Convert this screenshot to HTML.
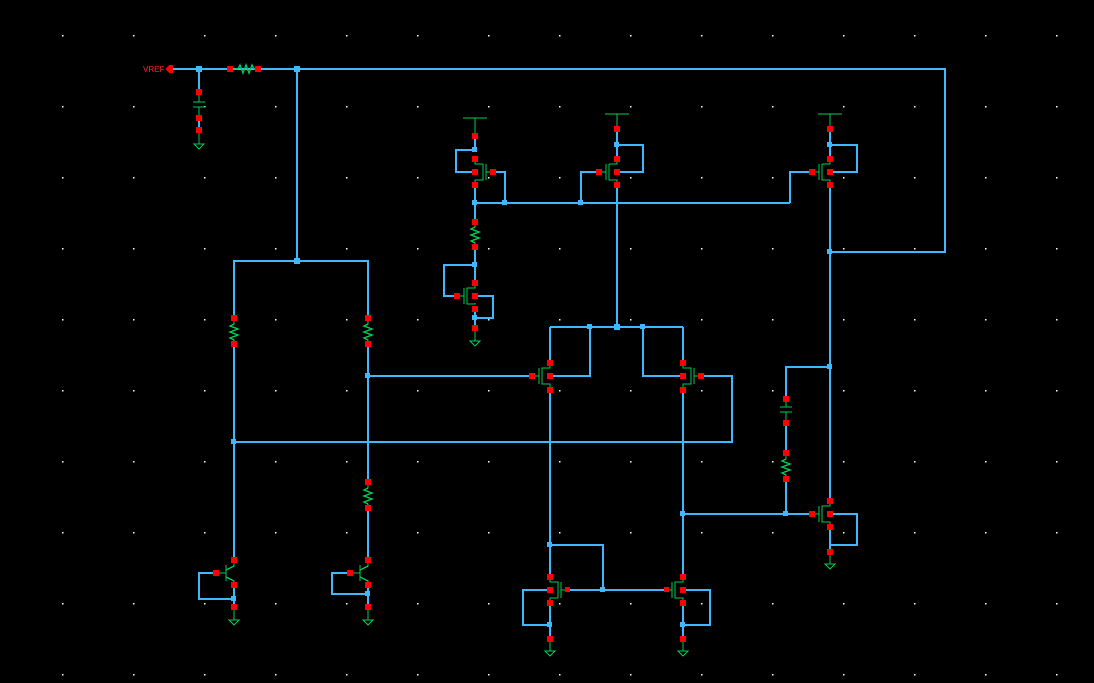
<!DOCTYPE html>
<html><head><meta charset="utf-8"><style>
html,body{margin:0;padding:0;background:#000;width:1094px;height:683px;overflow:hidden}
svg{display:block}
</style></head><body>
<svg width="1094" height="683" viewBox="0 0 1094 683" xmlns="http://www.w3.org/2000/svg" shape-rendering="crispEdges">
<rect width="1094" height="683" fill="#000"/>
<g fill="#fff" id="dots"></g>
<g stroke="#40b8ff" stroke-width="1.6" fill="none">
<polyline points="172,69 945,69 945,252 830,252"/>
<line x1="199" y1="69" x2="199" y2="92"/>
<line x1="199" y1="118" x2="199" y2="130"/>
<line x1="297" y1="69" x2="297" y2="261"/>
<polyline points="234,318 234,261 368,261 368,318"/>
<line x1="234" y1="344" x2="234" y2="560"/>
<line x1="368" y1="344" x2="368" y2="482"/>
<line x1="368" y1="508" x2="368" y2="560"/>
<line x1="368" y1="376" x2="532" y2="376"/>
<polyline points="234,442 732,442 732,376 701,376"/>
<polyline points="216,573 199,573 199,599 234,599"/>
<line x1="234" y1="585" x2="234" y2="607"/>
<polyline points="350,573 332,573 332,594 368,594"/>
<line x1="368" y1="585" x2="368" y2="607"/>
<line x1="475" y1="136" x2="475" y2="150"/>
<polyline points="475,150 456,150 456,172 475,172"/>
<polyline points="492,172 505,172 505,203"/>
<line x1="475" y1="185" x2="475" y2="222"/>
<line x1="475" y1="203" x2="790" y2="203"/>
<polyline points="790,203 790,172 812,172"/>
<polyline points="599,172 581,172 581,203"/>
<line x1="475" y1="246" x2="475" y2="283"/>
<polyline points="475,265 444,265 444,296 457,296"/>
<polyline points="475,296 493,296 493,318 475,318"/>
<line x1="475" y1="309" x2="475" y2="328"/>
<line x1="617" y1="132" x2="617" y2="158"/>
<polyline points="617,145 643,145 643,172 617,172"/>
<line x1="617" y1="185" x2="617" y2="327"/>
<line x1="830" y1="132" x2="830" y2="158"/>
<polyline points="830,145 857,145 857,172 830,172"/>
<line x1="830" y1="185" x2="830" y2="501"/>
<line x1="830" y1="527" x2="830" y2="552"/>
<polyline points="830,367 786,367 786,398"/>
<line x1="786" y1="423" x2="786" y2="453"/>
<line x1="786" y1="478" x2="786" y2="514"/>
<line x1="683" y1="514" x2="812" y2="514"/>
<polyline points="830,514 857,514 857,545 830,545"/>
<line x1="550" y1="327" x2="683" y2="327"/>
<polyline points="550,363 550,327"/>
<polyline points="683,363 683,327"/>
<polyline points="590,327 590,376 550,376"/>
<polyline points="643,327 643,376 683,376"/>
<line x1="550" y1="390" x2="550" y2="577"/>
<line x1="683" y1="390" x2="683" y2="577"/>
<polyline points="550,545 603,545 603,590"/>
<line x1="568" y1="590" x2="666" y2="590"/>
<polyline points="550,590 523,590 523,625 550,625"/>
<line x1="550" y1="603" x2="550" y2="639"/>
<polyline points="683,590 710,590 710,625 683,625"/>
<line x1="683" y1="603" x2="683" y2="639"/>
</g>
<g fill="#40b8ff">
<rect x="196" y="66" width="6" height="6"/><rect x="294" y="66" width="6" height="6"/>
<rect x="294" y="258" width="6" height="6"/><rect x="365" y="373" width="5" height="5"/>
<rect x="231" y="439" width="5" height="5"/><rect x="472" y="200" width="5" height="5"/>
<rect x="502" y="200" width="5" height="5"/><rect x="578" y="200" width="5" height="5"/>
<rect x="472" y="147" width="5" height="5"/><rect x="614" y="142" width="5" height="5"/>
<rect x="827" y="142" width="5" height="5"/><rect x="827" y="249" width="5" height="5"/>
<rect x="827" y="364" width="5" height="5"/><rect x="614" y="324" width="6" height="6"/>
<rect x="587" y="324" width="5" height="5"/><rect x="640" y="324" width="5" height="5"/>
<rect x="472" y="262" width="5" height="5"/><rect x="472" y="315" width="5" height="5"/>
<rect x="547" y="542" width="5" height="5"/><rect x="600" y="587" width="5" height="5"/>
<rect x="547" y="622" width="5" height="5"/><rect x="680" y="622" width="5" height="5"/>
<rect x="680" y="511" width="5" height="5"/><rect x="783" y="511" width="5" height="5"/>
<rect x="231" y="596" width="5" height="5"/><rect x="365" y="591" width="5" height="5"/>
</g>
<g stroke="#00cc55" stroke-width="1.4" fill="none">
<path d="M170,65 V73"/>
<path d="M233,69 h5 l2,-4 l3,8 l3,-8 l3,8 l3,-8 l2,4 h4"/>
<path d="M234,321 v3 l-4,2 l8,3 l-8,3 l8,3 l-8,3 l4,2 v3"/>
<path d="M368,321 v3 l-4,2 l8,3 l-8,3 l8,3 l-8,3 l4,2 v3"/>
<path d="M368,485 v3 l-4,2 l8,3 l-8,3 l8,3 l-8,3 l4,2 v3"/>
<path d="M475,224 v3 l-4,2 l8,3 l-8,3 l8,3 l-8,3 l4,2 v3"/>
<path d="M786,456 v3 l-4,2 l8,3 l-8,3 l8,3 l-8,3 l4,2 v3"/>
<path d="M199,95 V102 M193,102 H205 M193,107 H205 M199,107 V115"/>
<path d="M786,401 V407 M780,407 H792 M780,412 H792 M786,412 V420"/>
<path d="M199,133 V144 M194,144 H204 L199,149 Z"/>
<path d="M234,610 V620 M229,620 H239 L234,625 Z"/>
<path d="M368,610 V620 M363,620 H373 L368,625 Z"/>
<path d="M475,331 V341 M470,341 H480 L475,346 Z"/>
<path d="M550,642 V651 M545,651 H555 L550,656 Z"/>
<path d="M683,642 V651 M678,651 H688 L683,656 Z"/>
<path d="M830,555 V564 M825,564 H835 L830,569 Z"/>
<path d="M463,118 H487 M475,118 V133"/>
<path d="M605,114 H629 M617,114 V129"/>
<path d="M818,114 H842 M830,114 V129"/>
<path d="M475,159 v5 h8 M475,185 v-5 h8 v-16 M486,164 v16 M478,172 h-3 M486,172 h6"/>
<path d="M617,159 v5 h-8 M617,185 v-5 h-8 v-16 M606,164 v16 M602,172 h4"/>
<path d="M830,159 v5 h-8 M830,185 v-5 h-8 v-16 M819,164 v16 M815,172 h4"/>
<path d="M475,283 v5 h-8 v16 h8 v-1 M464,288 v16 M460,296 h4"/>
<path d="M550,363 v5 h-8 v16 h8 v3 M539,368 v16 M535,376 h4"/>
<path d="M683,363 v5 h8 v16 h-8 v3 M694,368 v16 M698,376 h-4"/>
<path d="M550,577 v5 h8 v16 h-8 v3 M561,582 v16 M565,590 h-4"/>
<path d="M683,577 v5 h-8 v16 h8 v3 M672,582 v16 M668,590 h4"/>
<path d="M830,501 v5 h-8 v16 h8 v3 M819,506 v16 M815,514 h4"/>
<path d="M219,573 h7 M226,565 v16 M234,563 v3 l-8,4 M226,577 l8,4 v4"/>
<path d="M353,573 h7 M360,565 v16 M368,563 v3 l-8,4 M360,577 l8,4 v4"/>
</g>
<g fill="#ff0000">
<path d="M165,69 l4,-4 h4 v8 h-4 z"/>
<rect x="196" y="89" width="6" height="6"/><rect x="196" y="115" width="6" height="6"/><rect x="196" y="127" width="6" height="6"/>
<rect x="227" y="66" width="6" height="6"/><rect x="255" y="66" width="6" height="6"/>
<rect x="231" y="315" width="6" height="6"/><rect x="231" y="341" width="6" height="6"/>
<rect x="365" y="315" width="6" height="6"/><rect x="365" y="341" width="6" height="6"/>
<rect x="365" y="479" width="6" height="6"/><rect x="365" y="505" width="6" height="6"/>
<rect x="231" y="557" width="6" height="6"/><rect x="213" y="570" width="6" height="6"/><rect x="231" y="582" width="6" height="6"/><rect x="231" y="604" width="6" height="6"/>
<rect x="365" y="557" width="6" height="6"/><rect x="347" y="570" width="6" height="6"/><rect x="365" y="582" width="6" height="6"/><rect x="365" y="604" width="6" height="6"/>
<rect x="472" y="133" width="6" height="6"/><rect x="472" y="156" width="6" height="6"/><rect x="472" y="169" width="6" height="6"/><rect x="490" y="169" width="6" height="6"/><rect x="472" y="182" width="6" height="6"/>
<rect x="472" y="219" width="6" height="6"/><rect x="472" y="244" width="6" height="6"/>
<rect x="472" y="280" width="6" height="6"/><rect x="454" y="293" width="6" height="6"/><rect x="472" y="293" width="6" height="6"/><rect x="472" y="306" width="6" height="6"/><rect x="472" y="325" width="6" height="6"/>
<rect x="614" y="126" width="6" height="6"/><rect x="614" y="156" width="6" height="6"/><rect x="596" y="169" width="6" height="6"/><rect x="614" y="169" width="6" height="6"/><rect x="614" y="182" width="6" height="6"/>
<rect x="827" y="126" width="6" height="6"/><rect x="827" y="156" width="6" height="6"/><rect x="809" y="169" width="6" height="6"/><rect x="827" y="169" width="6" height="6"/><rect x="827" y="182" width="6" height="6"/>
<rect x="547" y="360" width="6" height="6"/><rect x="529" y="373" width="6" height="6"/><rect x="547" y="373" width="6" height="6"/><rect x="547" y="387" width="6" height="6"/>
<rect x="680" y="360" width="6" height="6"/><rect x="698" y="373" width="6" height="6"/><rect x="680" y="373" width="6" height="6"/><rect x="680" y="387" width="6" height="6"/>
<rect x="547" y="574" width="6" height="6"/><rect x="547" y="587" width="6" height="6"/><rect x="565" y="587" width="5" height="5"/><rect x="547" y="600" width="6" height="6"/><rect x="547" y="636" width="6" height="6"/>
<rect x="680" y="574" width="6" height="6"/><rect x="680" y="587" width="6" height="6"/><rect x="664" y="587" width="5" height="5"/><rect x="680" y="600" width="6" height="6"/><rect x="680" y="636" width="6" height="6"/>
<rect x="783" y="396" width="6" height="6"/><rect x="783" y="420" width="6" height="6"/><rect x="783" y="450" width="6" height="6"/><rect x="783" y="476" width="6" height="6"/>
<rect x="827" y="498" width="6" height="6"/><rect x="809" y="511" width="6" height="6"/><rect x="827" y="511" width="6" height="6"/><rect x="827" y="524" width="6" height="6"/><rect x="827" y="549" width="6" height="6"/>
</g>
<text x="143" y="72" font-family="Liberation Sans, sans-serif" font-size="8" fill="#ff2020">VREF</text>
<script>
var g=document.getElementById('dots');
for(var x=62;x<1094;x+=71)for(var y=35;y<683;y+=71){var r=document.createElementNS('http://www.w3.org/2000/svg','rect');r.setAttribute('x',x);r.setAttribute('y',y);r.setAttribute('width',1.3);r.setAttribute('height',1.3);g.appendChild(r);}
</script>
</svg>
</body></html>
